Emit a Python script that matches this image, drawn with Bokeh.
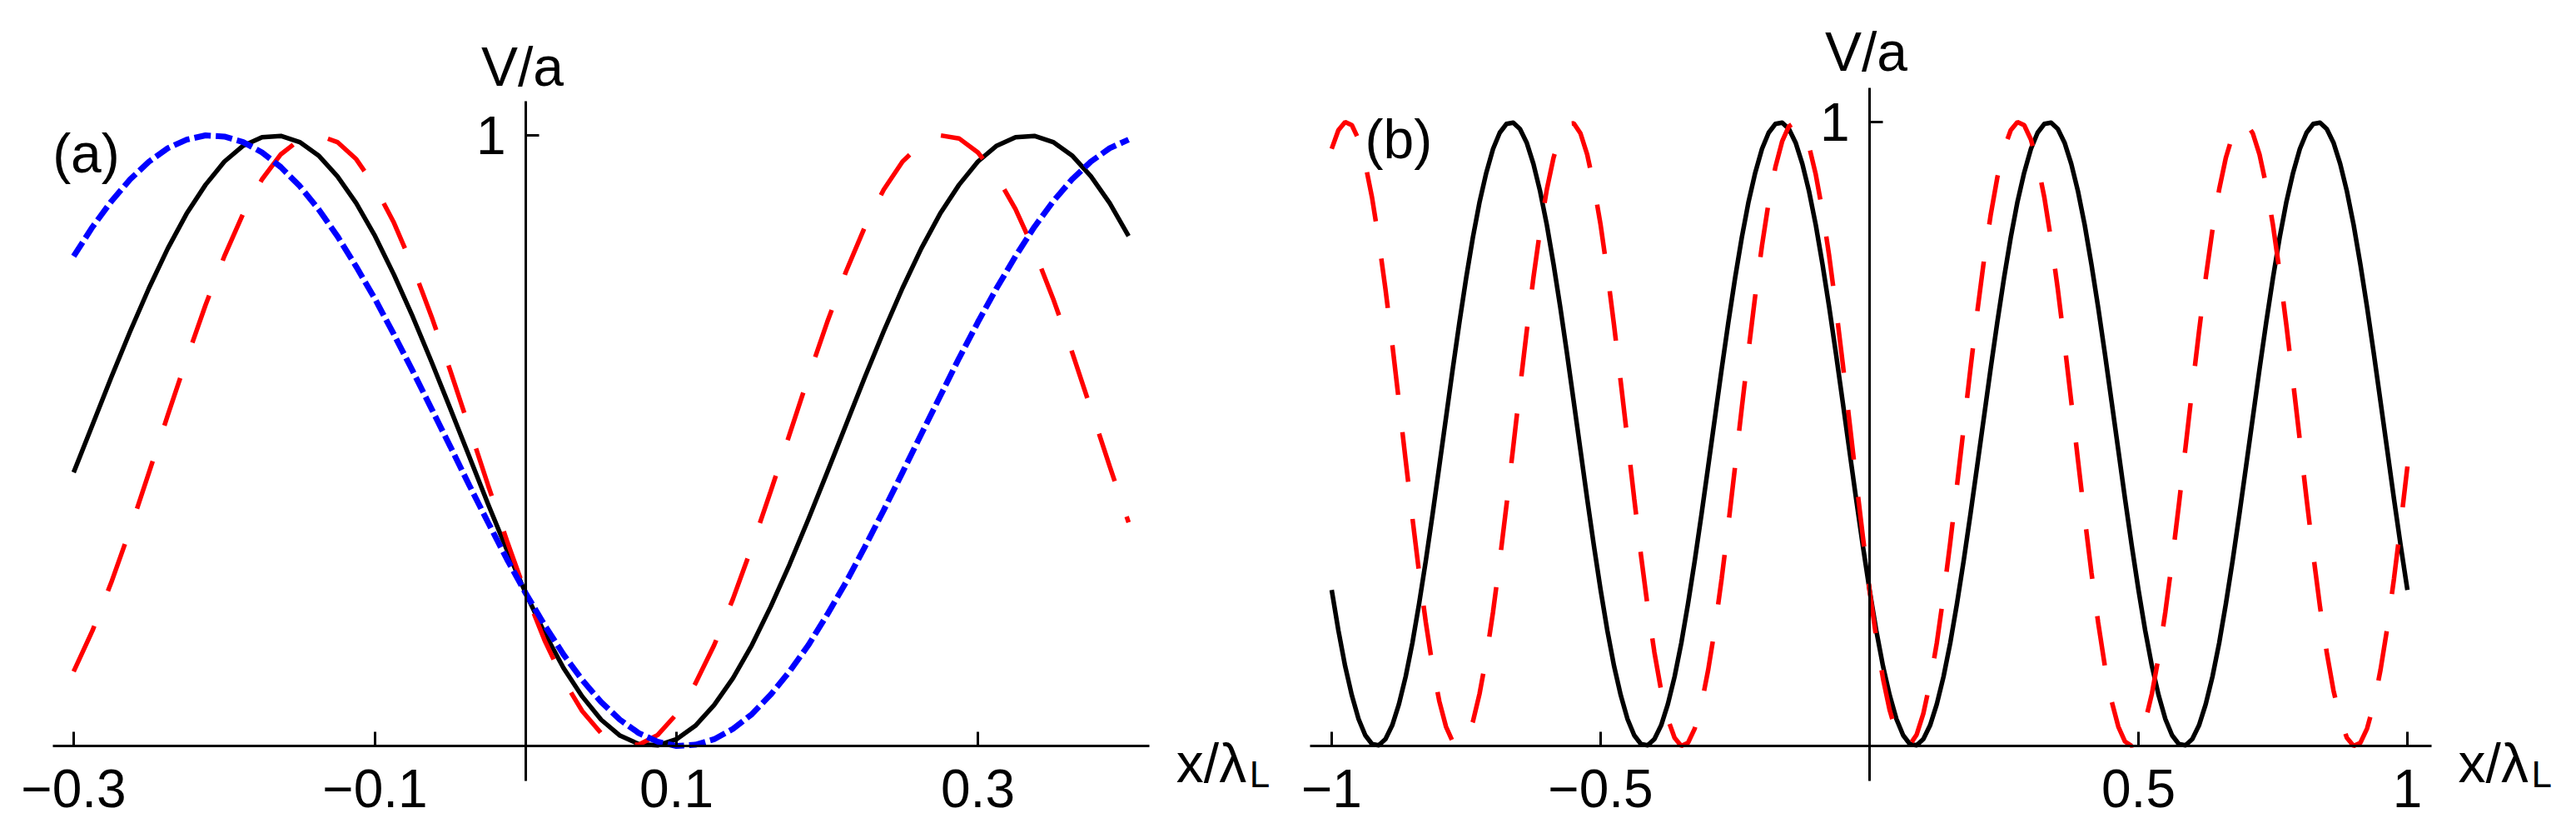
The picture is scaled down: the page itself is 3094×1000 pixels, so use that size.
import numpy as np
from bokeh.plotting import figure
from bokeh.models import Range1d, LinearAxis, FixedTicker, Label
from bokeh.layouts import row
from bokeh.embed import file_html
from bokeh.resources import INLINE

# ---------------- data ----------------
# panel (a): sample positions x/lambda_L from -0.3 to 0.4
x_a = np.linspace(-0.3, 0.4, 57)
black_a = [0.448, 0.526, 0.604, 0.679, 0.750, 0.815, 0.872, 0.919, 0.957, 0.983,
           0.997, 0.999, 0.989, 0.967, 0.933, 0.889, 0.835, 0.772, 0.703, 0.629,
           0.552, 0.474, 0.396, 0.321, 0.250, 0.185, 0.128, 0.081, 0.043, 0.017,
           0.003, 0.001, 0.011, 0.033, 0.067, 0.111, 0.165, 0.228, 0.297, 0.371,
           0.448, 0.526, 0.604, 0.679, 0.750, 0.815, 0.872, 0.919, 0.957, 0.983,
           0.997, 0.999, 0.989, 0.967, 0.933, 0.889, 0.835]
red_a = [0.122, 0.189, 0.268, 0.355,
         0.448, 0.542, 0.634, 0.722, 0.802, 0.872, 0.928, 0.969, 0.993, 1.000,
         0.989, 0.961, 0.916, 0.857, 0.785, 0.703, 0.614, 0.521, 0.427, 0.336,
         0.250, 0.173, 0.108, 0.057, 0.021, 0.003, 0.002, 0.018, 0.052, 0.102,
         0.165, 0.241, 0.326, 0.417, 0.510, 0.604, 0.694, 0.777, 0.850, 0.911,
         0.957, 0.987, 1.000, 0.995, 0.972, 0.933, 0.879, 0.811, 0.732, 0.645,
         0.552, 0.458, 0.366]
blue_a = [0.802, 0.850, 0.892, 0.928, 0.957, 0.979, 0.993, 1.000, 0.998, 0.989,
          0.972, 0.948, 0.917, 0.879, 0.835, 0.785, 0.732, 0.674, 0.614, 0.552,
          0.490, 0.427, 0.366, 0.306, 0.250, 0.198, 0.150, 0.108, 0.072, 0.043,
          0.021, 0.007, 0.000, 0.002, 0.011, 0.028, 0.052, 0.084, 0.122, 0.165,
          0.215, 0.268, 0.326, 0.386, 0.448, 0.511, 0.573, 0.635, 0.694, 0.750,
          0.802, 0.850, 0.892, 0.928, 0.957, 0.979, 0.993]

# panel (b): sample positions x/lambda_L from -1 to 1
x_b = np.linspace(-1.0, 1.0, 161)
black_b = [0.250, 0.185, 0.128, 0.081, 0.043, 0.017, 0.003, 0.001, 0.011, 0.033,
           0.067, 0.111, 0.165, 0.228, 0.297, 0.371, 0.448, 0.526, 0.604, 0.679,
           0.750, 0.815, 0.872, 0.919, 0.957, 0.983, 0.997, 0.999, 0.989, 0.967,
           0.933, 0.889, 0.835, 0.772, 0.703, 0.629, 0.552, 0.474, 0.396, 0.321,
           0.250, 0.185, 0.128, 0.081, 0.043, 0.017, 0.003, 0.001, 0.011, 0.033,
           0.067, 0.111, 0.165, 0.228, 0.297, 0.371, 0.448, 0.526, 0.604, 0.679,
           0.750, 0.815, 0.872, 0.919, 0.957, 0.983, 0.997, 0.999, 0.989, 0.967,
           0.933, 0.889, 0.835, 0.772, 0.703, 0.629, 0.552, 0.474, 0.396, 0.321,
           0.250, 0.185, 0.128, 0.081, 0.043, 0.017, 0.003, 0.001, 0.011, 0.033,
           0.067, 0.111, 0.165, 0.228, 0.297, 0.371, 0.448, 0.526, 0.604, 0.679,
           0.750, 0.815, 0.872, 0.919, 0.957, 0.983, 0.997, 0.999, 0.989, 0.967,
           0.933, 0.889, 0.835, 0.772, 0.703, 0.629, 0.552, 0.474, 0.396, 0.321,
           0.250, 0.185, 0.128, 0.081, 0.043, 0.017, 0.003, 0.001, 0.011, 0.033,
           0.067, 0.111, 0.165, 0.228, 0.297, 0.371, 0.448, 0.526, 0.604, 0.679,
           0.750, 0.815, 0.872, 0.919, 0.957, 0.983, 0.997, 0.999, 0.989, 0.967,
           0.933, 0.889, 0.835, 0.772, 0.703, 0.629, 0.552, 0.474, 0.396, 0.321,
           0.250]
red_b = [0.957, 0.987, 1.000, 0.995, 0.972, 0.933, 0.879, 0.811, 0.732, 0.645,
         0.552, 0.458, 0.366, 0.278, 0.198, 0.128, 0.072, 0.031, 0.007, 0.000,
         0.011, 0.039, 0.084, 0.143, 0.215, 0.297, 0.386, 0.479, 0.573, 0.664,
         0.750, 0.827, 0.892, 0.943, 0.979, 0.997, 0.998, 0.982, 0.948, 0.898,
         0.835, 0.759, 0.674, 0.583, 0.490, 0.396, 0.306, 0.223, 0.150, 0.089,
         0.043, 0.013, 0.000, 0.005, 0.028, 0.067, 0.122, 0.189, 0.268, 0.355,
         0.448, 0.542, 0.634, 0.722, 0.802, 0.872, 0.928, 0.969, 0.993, 1.000,
         0.989, 0.961, 0.916, 0.857, 0.785, 0.703, 0.614, 0.521, 0.427, 0.336,
         0.250, 0.173, 0.108, 0.057, 0.021, 0.003, 0.002, 0.018, 0.052, 0.102,
         0.165, 0.241, 0.326, 0.417, 0.510, 0.604, 0.694, 0.777, 0.850, 0.911,
         0.957, 0.987, 1.000, 0.995, 0.972, 0.933, 0.879, 0.811, 0.732, 0.645,
         0.552, 0.458, 0.366, 0.278, 0.198, 0.128, 0.072, 0.031, 0.007, 0.000,
         0.011, 0.039, 0.084, 0.143, 0.215, 0.297, 0.386, 0.479, 0.573, 0.664,
         0.750, 0.827, 0.892, 0.943, 0.979, 0.997, 0.998, 0.982, 0.948, 0.898,
         0.835, 0.759, 0.674, 0.583, 0.490, 0.396, 0.306, 0.223, 0.150, 0.089,
         0.043, 0.013, 0.000, 0.005, 0.028, 0.067, 0.122, 0.189, 0.268, 0.355,
         0.448]

ticks_a = [-0.3, -0.1, 0.1, 0.3]
tick_labels_a = ["\u22120.3", "\u22120.1", "0.1", "0.3"]
ticks_b = [-1, -0.5, 0.5, 1]
tick_labels_b = ["\u22121", "\u22120.5", "0.5", "1"]
y_ticks = [1]
y_tick_labels = ["1"]
y_label = "V/a"
x_label_main = "x/\u03bb"
x_label_sub = "L"
panel_tags = ["(a)", "(b)"]

assert len(black_a) == len(x_a) == len(red_a) == len(blue_a)
assert len(black_b) == len(x_b) == len(red_b)

FONT = "Liberation Sans"
HEIGHT = 984


def make_panel(width, view_x, view_y, axis_x, axis_y, xticks, xlabels, tag, tag_pos, vlab_off):
    p = figure(width=width, height=HEIGHT, x_range=Range1d(*view_x), y_range=Range1d(*view_y),
               x_axis_type=None, y_axis_type=None, toolbar_location=None,
               output_backend="svg", min_border=0, min_border_left=0, min_border_right=0,
               min_border_top=0, min_border_bottom=0)
    p.outline_line_color = None
    p.background_fill_color = "white"
    p.border_fill_color = "white"

    xaxis = LinearAxis(fixed_location=0, bounds=axis_x,
                       ticker=FixedTicker(ticks=xticks, minor_ticks=[]),
                       major_label_overrides=dict(zip(xticks, xlabels)),
                       axis_line_width=3, axis_line_color="black",
                       major_tick_line_width=3, major_tick_in=17, major_tick_out=0,
                       minor_tick_in=0, minor_tick_out=0,
                       major_label_text_font=FONT, major_label_text_font_size="64px",
                       major_label_text_color="black", major_label_standoff=28)
    p.add_layout(xaxis, "below")
    yaxis = LinearAxis(fixed_location=0, bounds=axis_y,
                       ticker=FixedTicker(ticks=y_ticks, minor_ticks=[]),
                       major_label_overrides=dict(zip(y_ticks, y_tick_labels)),
                       axis_line_width=3, axis_line_color="black",
                       major_tick_line_width=3, major_tick_in=16, major_tick_out=0,
                       minor_tick_in=0, minor_tick_out=0,
                       major_label_text_font=FONT, major_label_text_font_size="64px",
                       major_label_text_color="black", major_label_standoff=24)
    p.add_layout(yaxis, "left")

    p.add_layout(Label(x=0, y=axis_y[1], text=y_label, text_align="center",
                       text_baseline="alphabetic", x_offset=-4, y_offset=vlab_off,
                       text_font=FONT, text_font_size="66px", text_color="black"))
    p.add_layout(Label(x=axis_x[1], y=0, text=x_label_main, text_align="left",
                       text_baseline="alphabetic", x_offset=32, y_offset=-20,
                       text_font=FONT, text_font_size="66px", text_color="black"))
    p.add_layout(Label(x=axis_x[1], y=0, text=x_label_sub, text_align="left",
                       text_baseline="alphabetic", x_offset=120, y_offset=-34,
                       text_font=FONT, text_font_size="44px", text_color="black"))
    p.add_layout(Label(x=tag_pos[0], y=tag_pos[1], text=tag, text_align="left",
                       text_baseline="alphabetic",
                       text_font=FONT, text_font_size="66px", text_color="black"))
    return p


# view ranges chosen so that 0 sits at the same pixel as in the reference
p1 = make_panel(1542, (-0.3486, 0.5033), (-0.1214, 1.2210),
                (-0.314, 0.414), (-0.0573, 1.056),
                ticks_a, tick_labels_a, panel_tags[0], (-0.314, 0.97), 41)
p1.line(x_a, black_a, line_color="black", line_width=5.5, line_join="round")
p1.line(x_a, red_a, line_color="#ff0000", line_width=5.5, line_dash="60 45")
p1.line(x_a, blue_a, line_color="#0000ff", line_width=7, line_dash="20 6")

p2 = make_panel(1527, (-1.0882, 1.2755), (-0.1188, 1.1949),
                (-1.04, 1.045), (-0.056, 1.055),
                ticks_b, tick_labels_b, panel_tags[1], (-0.938, 0.972), 43)
p2.line(x_b, black_b, line_color="black", line_width=5.5, line_join="round")
p2.line(x_b, red_b, line_color="#ff0000", line_width=5.5, line_dash="60 45")

layout = row(p1, p2)
open("out.html", "w").write(file_html(layout, INLINE))
